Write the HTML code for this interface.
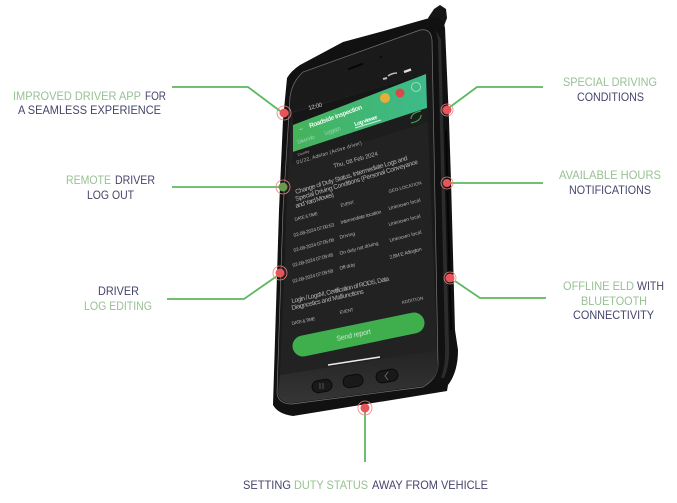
<!DOCTYPE html>
<html><head><meta charset="utf-8">
<style>
html,body{margin:0;padding:0;background:#fff;width:677px;height:503px;overflow:hidden}
svg{display:block}
text{font-family:"Liberation Sans",sans-serif}
.g{fill:#98c195;font-size:12px}
.d{fill:#46456b;font-size:12px}
.s text{fill:#b4b4b4;font-size:5px}
</style></head><body>
<svg width="677" height="503" viewBox="0 0 677 503" xmlns="http://www.w3.org/2000/svg">
<defs>
<linearGradient id="hd" x1="0" y1="0" x2="1" y2="0"><stop offset="0" stop-color="#46b25a"/><stop offset="1" stop-color="#3dbb8c"/></linearGradient>
<linearGradient id="nv" x1="0" y1="0" x2="0" y2="1"><stop offset="0" stop-color="#242424"/><stop offset="1" stop-color="#353535"/></linearGradient>
<filter id="b"><feGaussianBlur stdDeviation="0.35"/></filter>
</defs>
<!-- body -->
<path d="M428 18 L434 9 L440 5 L446 9 L447 18 L444 26 Z" fill="#151515"/>
<path d="M287 78 Q291 71 300 65 L343 42 L380 32 L433 17 Q443 17 445 28 L449 120 L451 180 L455 330 L458 350 Q458 372 448 385 L447 391 L293 416 Q278 414 273 405 L275 340 L279 210 L283 120 Z" fill="#111"/>
<path d="M436 30 L441 40 L449 345 Q450 365 444 378 L441 378 Q446 365 445 345 L438 40 Z" fill="#2c2c2c"/>
<path d="M445 130 L447 130 L452 330 L450 330 Z" fill="#050505"/>
<!-- glass -->
<path d="M290 97 Q292 82 303 72 L420 30 Q431 28 432 40 L438 365 Q438 378 423 387 L292 404 Q278 404 277 393 L283 210 Z" fill="#1a1a1a" stroke="#777" stroke-width="0.7"/>
<path d="M291 112 L426 74 L437 350 L280 375 L287 200 Z" fill="#222"/>
<path d="M280 375 L437 350 L438 366 Q438 378 423 386 L292 403 Q279 403 278 393 Z" fill="url(#nv)"/>
<!-- speaker/camera -->
<line x1="349" y1="69" x2="362" y2="64" stroke="#050505" stroke-width="2" stroke-linecap="round"/>
<circle cx="381" cy="57" r="1" fill="#050505"/>
<!-- header -->
<path d="M292 113 L426 74 L426 76 L293 125 Z" fill="#161616"/>
<path d="M293 125 L426 74 L427 108 L293 152 Z" fill="url(#hd)"/>
<path d="M293 152 L427 108 L428 122 L292 165 Z" fill="#1d1d1d"/>
<circle cx="385" cy="98" r="5" fill="#e9ac35"/>
<circle cx="400" cy="93" r="4.5" fill="#d9484a"/>
<circle cx="416" cy="87" r="4.5" fill="none" stroke="#b6e0c6" stroke-width="0.8"/>
<g fill="none" stroke="#3e9a4d" stroke-width="1.2"><path d="M411 119 Q411 113 421 111"/><path d="M421 115 Q421 121 411 123"/></g>
<line x1="381" y1="120" x2="355" y2="128" stroke="#cfeee0" stroke-width="1"/>
<path d="M404 72 l7 -2.5" stroke="#ddd" stroke-width="2.5"/>
<path d="M388 76 q4 -3 9 -3" stroke="#bbb" stroke-width="1.5" fill="none"/>
<path d="M387 78 l-4 1" stroke="#bbb" stroke-width="2"/>
<g filter="url(#b)">
<text transform="translate(309,110) rotate(-15)" font-size="6" fill="#c8c8c8" textLength="14">12:00</text>
<text transform="translate(299,131) rotate(-20)" font-size="6" fill="#e8f8ee">←</text>
<text transform="translate(310,128) rotate(-20)" font-size="6.5" font-weight="bold" fill="#eaf8ee" textLength="56">Roadside inspection</text>
<text transform="translate(298,144) rotate(-18)" font-size="5.5" fill="#8fd4a6" textLength="18">Driver info</text>
<text transform="translate(325,135) rotate(-18)" font-size="5.5" fill="#8fd4a6" textLength="17">Log graph</text>
<text transform="translate(355,126) rotate(-18)" font-size="5.5" font-weight="bold" fill="#f2fff6" textLength="24">Log viewer</text>
<g class="s">
<text transform="translate(298,156) rotate(-18)" style="font-size:3.5px">Country</text>
<text transform="translate(297,164) rotate(-17)" textLength="68">01/22, Adelan (Active driver)</text>
<text transform="translate(334,168) rotate(-16)" style="font-size:6px" textLength="46">Thu, 08 Feb 2024</text>
<text transform="translate(296,194) rotate(-17)" style="font-size:6.5px" textLength="117">Change of Duty Status, Intermediate Logs and</text>
<text transform="translate(296,201) rotate(-17)" style="font-size:6.5px" textLength="128">Special Driving Conditions (Personal Conveyance</text>
<text transform="translate(296,208) rotate(-17)" style="font-size:6.5px" textLength="40">and Yard Moves)</text>
<text transform="translate(295,221) rotate(-15)" textLength="24" style="font-size:4.5px">DATE &amp; TIME</text>
<text transform="translate(341,207) rotate(-15)" textLength="14" style="font-size:4.5px">EVENT</text>
<text transform="translate(389,193) rotate(-15)" textLength="34" style="font-size:4.5px">GEO-LOCATION</text>
<text transform="translate(294,237) rotate(-15)" textLength="42">02-08-2024 07:00:53</text>
<text transform="translate(341,224) rotate(-15)" textLength="42">Intermediate location</text>
<text transform="translate(389,210) rotate(-15)" textLength="33">Unknown local</text>
<text transform="translate(294,252) rotate(-15)" textLength="42">02-08-2024 07:05:06</text>
<text transform="translate(340,239) rotate(-15)" textLength="16">Driving</text>
<text transform="translate(389,226) rotate(-15)" textLength="33">Unknown local</text>
<text transform="translate(293,267) rotate(-15)" textLength="42">02-08-2024 07:09:46</text>
<text transform="translate(340,255) rotate(-15)" textLength="40">On duty not driving</text>
<text transform="translate(390,242) rotate(-15)" textLength="33">Unknown local</text>
<text transform="translate(293,283) rotate(-15)" textLength="42">02-08-2024 07:09:58</text>
<text transform="translate(340,270) rotate(-15)" textLength="16">Off duty</text>
<text transform="translate(390,259) rotate(-15)" textLength="33">2.8M E Arlington</text>
<text transform="translate(292,303) rotate(-13)" style="font-size:6.5px" textLength="100">Login / LogsM, Certification of RODS, Data</text>
<text transform="translate(292,310) rotate(-13)" style="font-size:6.5px" textLength="74">Diagnostics and Malfunctions</text>
<text transform="translate(292,325) rotate(-12)" style="font-size:4.5px" textLength="24">DATE &amp; TIME</text>
<text transform="translate(340,314) rotate(-12)" style="font-size:4.5px" textLength="14">EVENT</text>
<text transform="translate(402,304) rotate(-12)" style="font-size:4.5px" textLength="22">ADDITION</text>
</g>
</g>
<!-- send button -->
<line x1="303" y1="346" x2="414" y2="323" stroke="#3fae4c" stroke-width="21" stroke-linecap="round"/>
<text transform="translate(337,341) rotate(-12)" font-size="7" fill="#c9ecce" textLength="35" filter="url(#b)">Send report</text>
<line x1="328" y1="365" x2="380" y2="357" stroke="#ececec" stroke-width="1.5"/>
<!-- nav buttons -->
<g fill="#191919" stroke="#0a0a0a" stroke-width="1">
<rect x="312" y="380" width="20" height="12" rx="6" transform="rotate(-10 322 386)"/>
<rect x="343" y="375" width="20" height="12" rx="6" transform="rotate(-10 353 381)"/>
<rect x="376" y="370" width="22" height="12" rx="6" transform="rotate(-10 387 376)"/>
</g>
<path d="M320 383 v6 M323 383 v6" stroke="#555" stroke-width="1"/>
<path d="M388 372 l-3 4 l3 4" stroke="#666" fill="none"/>
<!-- connectors -->
<g fill="none" stroke="#5cb85f" stroke-width="1.8">
<path d="M172 87 H248 L280 111"/>
<path d="M172 187 H283"/>
<path d="M167 299 H244 L277 276"/>
<path d="M543 87 H477 L450 107"/>
<path d="M543 183 H447"/>
<path d="M546 298 H480 L455 281"/>
<path d="M365 408 V462"/>
</g>
<!-- dots -->
<g fill="#e9545b">
<circle cx="284" cy="113" r="4.5"/>
<circle cx="447" cy="110" r="4.5"/>
<circle cx="447" cy="183" r="4"/>
<circle cx="280" cy="273" r="4.5"/>
<circle cx="450" cy="278" r="4.5"/>
<circle cx="365" cy="408" r="4.5"/>
</g>
<circle cx="283" cy="187" r="4.5" fill="#6a9a50"/>
<g fill="none" stroke="#e8857f" stroke-width="0.8">
<circle cx="284" cy="113" r="7"/>
<circle cx="447" cy="110" r="6"/>
<circle cx="283" cy="187" r="7"/>
<circle cx="447" cy="183" r="6"/>
<circle cx="280" cy="273" r="7"/>
<circle cx="450" cy="278" r="6"/>
<circle cx="365" cy="408" r="7"/>
</g>
<!-- labels -->
<text class="g" x="13" y="100" textLength="128" lengthAdjust="spacingAndGlyphs">IMPROVED DRIVER APP</text>
<text class="d" x="145" y="100" textLength="21" lengthAdjust="spacingAndGlyphs">FOR</text>
<text class="d" x="18" y="114" textLength="143" lengthAdjust="spacingAndGlyphs">A SEAMLESS EXPERIENCE</text>
<text class="g" x="66" y="184" textLength="45" lengthAdjust="spacingAndGlyphs">REMOTE</text>
<text class="d" x="115" y="184" textLength="40" lengthAdjust="spacingAndGlyphs">DRIVER</text>
<text class="d" x="87" y="199" textLength="47" lengthAdjust="spacingAndGlyphs">LOG OUT</text>
<text class="d" x="98" y="295" textLength="41" lengthAdjust="spacingAndGlyphs">DRIVER</text>
<text class="g" x="84" y="310" textLength="68" lengthAdjust="spacingAndGlyphs">LOG EDITING</text>
<text class="g" x="563" y="86" textLength="94" lengthAdjust="spacingAndGlyphs">SPECIAL DRIVING</text>
<text class="d" x="577" y="101" textLength="67" lengthAdjust="spacingAndGlyphs">CONDITIONS</text>
<text class="g" x="559" y="179" textLength="102" lengthAdjust="spacingAndGlyphs">AVAILABLE HOURS</text>
<text class="d" x="569" y="194" textLength="82" lengthAdjust="spacingAndGlyphs">NOTIFICATIONS</text>
<text class="g" x="563" y="290" textLength="71" lengthAdjust="spacingAndGlyphs">OFFLINE ELD</text>
<text class="d" x="637" y="290" textLength="27" lengthAdjust="spacingAndGlyphs">WITH</text>
<text class="g" x="581" y="305" textLength="66" lengthAdjust="spacingAndGlyphs">BLUETOOTH</text>
<text class="d" x="573" y="319" textLength="81" lengthAdjust="spacingAndGlyphs">CONNECTIVITY</text>
<text class="d" x="243" y="489" textLength="48" lengthAdjust="spacingAndGlyphs">SETTING</text>
<text class="g" x="294" y="489" textLength="74" lengthAdjust="spacingAndGlyphs">DUTY STATUS</text>
<text class="d" x="372" y="489" textLength="116" lengthAdjust="spacingAndGlyphs">AWAY FROM VEHICLE</text>
</svg>
</body></html>
